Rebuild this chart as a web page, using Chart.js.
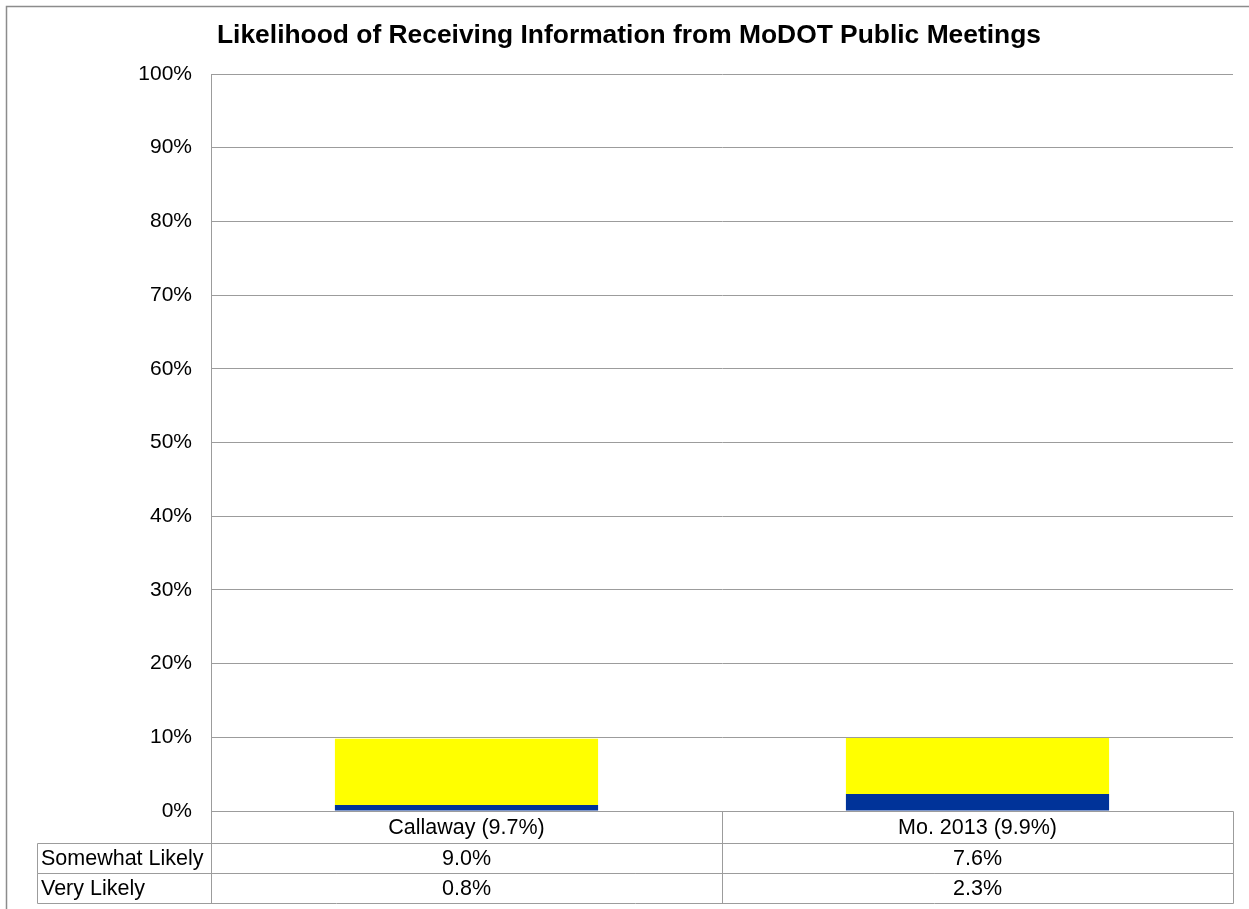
<!DOCTYPE html>
<html lang="en">
<head>
    <meta charset="UTF-8">
    <title>Likelihood of Receiving Information from MoDOT Public Meetings</title>
    <script src="https://cdn.jsdelivr.net/npm/chart.js"></script>
    <style>
        body {
            margin: 0;
            background: #ffffff;
        }
        #chart {
            position: absolute;
            left: 0;
            top: 0;
        }
    </style>
</head>
<body>
    <canvas id="chart" width="1249" height="909"></canvas>

    <script>
        // chart data
        var title = 'Likelihood of Receiving Information from MoDOT Public Meetings';
        var categories = ['Callaway (9.7%)', 'Mo. 2013 (9.9%)'];
        var seriesNames = ['Very Likely', 'Somewhat Likely'];
        var veryLikely = [0.8, 2.3];
        var somewhatLikely = [9.0, 7.6];
        var yMax = 100;
        var yStep = 10;

        var fontFamily = '"Liberation Sans", Arial, sans-serif';
        var gridColor = '#9c9c9c';

        // frame, title and the data table under the bars
        var tablePlugin = {
            id: 'dataTable',
            afterDraw: function(chart) {
                var ctx = chart.ctx;
                var area = chart.chartArea;
                var x = chart.scales.x;
                ctx.save();

                // outer frame
                ctx.strokeStyle = '#8c8c8c';
                ctx.lineWidth = 1.5;
                ctx.strokeRect(6.5, 6.5, 1300, 960);

                // title
                ctx.fillStyle = '#000';
                ctx.font = 'bold 26.4px ' + fontFamily;
                ctx.textAlign = 'center';
                ctx.textBaseline = 'middle';
                ctx.fillText(title, 629, 36);

                var rowTop = area.bottom;
                var catH = 32, rowH = 30;
                var labelLeft = 37;
                var mid = (x.getPixelForValue(0) + x.getPixelForValue(1)) / 2;

                ctx.strokeStyle = gridColor;
                ctx.lineWidth = 1;
                ctx.beginPath();
                // category row
                ctx.rect(area.left + 0.5, rowTop + 0.5, area.right - area.left, catH);
                // series rows
                for (var r = 0; r < 2; r++) {
                    var y0 = rowTop + catH + r * rowH;
                    ctx.rect(labelLeft + 0.5, y0 + 0.5, area.right - labelLeft, rowH);
                    ctx.moveTo(area.left + 0.5, y0);
                    ctx.lineTo(area.left + 0.5, y0 + rowH);
                }
                ctx.moveTo(Math.round(mid) + 0.5, rowTop);
                ctx.lineTo(Math.round(mid) + 0.5, rowTop + catH + 2 * rowH);
                ctx.stroke();

                ctx.fillStyle = '#000';
                ctx.font = '21.5px ' + fontFamily;
                ctx.textBaseline = 'middle';
                var rows = [
                    { name: 'Somewhat Likely', values: somewhatLikely },
                    { name: 'Very Likely', values: veryLikely }
                ];
                categories.forEach(function(c, i) {
                    ctx.textAlign = 'center';
                    ctx.fillText(c, x.getPixelForValue(i), rowTop + catH / 2 + 1);
                });
                rows.forEach(function(row, r) {
                    var cy = rowTop + catH + r * rowH + rowH / 2 + 1;
                    ctx.textAlign = 'left';
                    ctx.fillText(row.name, labelLeft + 4, cy);
                    ctx.textAlign = 'center';
                    row.values.forEach(function(v, i) {
                        ctx.fillText(v.toFixed(1) + '%', x.getPixelForValue(i), cy);
                    });
                });
                ctx.restore();
            }
        };

        var ctx = document.getElementById('chart').getContext('2d');
        var chart = new Chart(ctx, {
            type: 'bar',
            data: {
                labels: categories,
                datasets: [{
                    label: seriesNames[0],
                    data: veryLikely,
                    backgroundColor: '#003399',
                    borderWidth: 0
                }, {
                    label: seriesNames[1],
                    data: somewhatLikely,
                    backgroundColor: '#ffff00',
                    borderWidth: 0
                }]
            },
            options: {
                responsive: false,
                animation: false,
                layout: {
                    padding: { left: 0, top: 74, right: 16, bottom: 0 }
                },
                plugins: {
                    legend: { display: false },
                    title: { display: false },
                    tooltip: { enabled: false }
                },
                datasets: {
                    bar: {
                        categoryPercentage: 1,
                        barPercentage: 0.515
                    }
                },
                scales: {
                    x: {
                        stacked: true,
                        grid: { display: false },
                        border: { display: false },
                        ticks: { display: false },
                        afterFit: function(scale) { scale.height = 98; }
                    },
                    y: {
                        stacked: true,
                        min: 0,
                        max: yMax,
                        grid: {
                            color: gridColor,
                            lineWidth: 1,
                            drawTicks: false
                        },
                        border: { display: true, color: gridColor, width: 1 },
                        ticks: {
                            stepSize: yStep,
                            padding: 19,
                            color: '#000',
                            font: { family: fontFamily, size: 21 },
                            callback: function(v) { return v + '%'; }
                        },
                        afterFit: function(scale) { scale.width = 211; }
                    }
                }
            },
            plugins: [tablePlugin]
        });
    </script>
</body>
</html>
